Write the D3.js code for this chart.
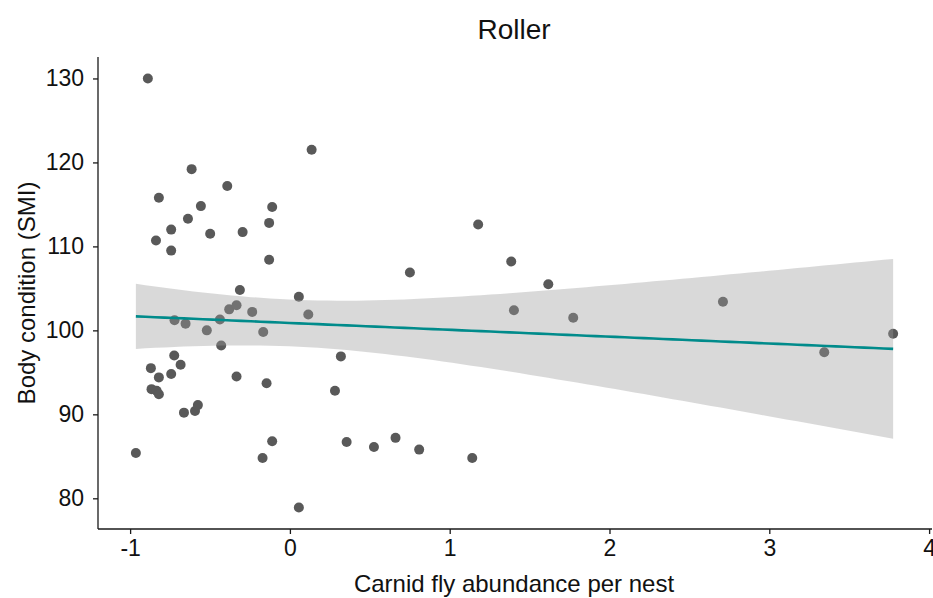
<!DOCTYPE html>
<html>
<head>
<meta charset="utf-8">
<script src="https://cdn.jsdelivr.net/npm/d3@7"></script>
<style>
    body { margin: 0; background: #fff; }
    svg text { font-family: "Liberation Sans", Arial, sans-serif; }
</style>
</head>
<body>
<div id="chart"></div>
<script>
// data //
// ------------------------ //
var title = "Roller",
    xLabel = "Carnid fly abundance per nest",
    yLabel = "Body condition (SMI)",
    xTicks = [-1, 0, 1, 2, 3, 4],
    yTicks = [80, 90, 100, 110, 120, 130];

// carnid fly abundance per nest (x)
var fly = [-0.889, 0.136, -0.615, -0.392, -0.82, -0.557, -0.111, -0.638, -0.13, -0.743,
           -0.499, -0.296, -0.838, -0.743, -0.13, -0.313, 0.056, 0.115, -0.38, -0.334,
           -0.236, -0.722, -0.653, -0.438, -0.52, -0.167, -0.43, -0.724, -0.684, -0.87,
           -0.82, -0.743, -0.334, -0.146, 0.319, 0.282, -0.866, -0.834, -0.82, -0.663,
           -0.594, -0.576, -0.964, -0.111, -0.171, 0.355, 0.056, 1.178, 1.385, 1.617,
           0.751, 1.402, 0.526, 0.661, 0.809, 1.141, 1.773, 2.71, 3.344, 3.775];

// body condition (y)
var smi = [130.0, 121.5, 119.2, 117.2, 115.8, 114.8, 114.7, 113.3, 112.8, 112.0,
           111.5, 111.7, 110.7, 109.5, 108.4, 104.8, 104.0, 101.9, 102.5, 103.0,
           102.2, 101.2, 100.8, 101.3, 100.0, 99.8, 98.2, 97.0, 95.9, 95.5,
           94.4, 94.8, 94.5, 93.7, 96.9, 92.8, 93.0, 92.8, 92.4, 90.2,
           90.4, 91.1, 85.4, 86.8, 84.8, 86.7, 78.9, 112.6, 108.2, 105.5,
           106.9, 102.4, 86.1, 87.2, 85.8, 84.8, 101.5, 103.4, 97.4, 99.6];

(function () {
    'use strict';
    var width = 933,
        height = 598,
        left = 98,
        right = 931,
        top = 57,
        bottom = 529,
        points = fly.map(function (d, i) { return {x: d, y: smi[i]}; });

    // ggplot style 5% padding on the data range
    var pad = function (ext) {
        var r = ext[1] - ext[0];
        return [ext[0] - 0.05 * r, ext[1] + 0.05 * r];
    };

    var x = d3.scaleLinear().domain(pad(d3.extent(fly))).range([left, right]),
        y = d3.scaleLinear().domain(pad(d3.extent(smi))).range([bottom, top]);

    // lm fit + 95% confidence band (geom_smooth(method = "lm")) //
    // -------------------------------------------------------- //
    var n = fly.length,
        mx = d3.mean(fly),
        my = d3.mean(smi),
        sxx = d3.sum(fly, function (d) { return (d - mx) * (d - mx); }),
        sxy = d3.sum(fly, function (d, i) { return (d - mx) * (smi[i] - my); }),
        slope = sxy / sxx,
        icpt = my - slope * mx,
        rss = d3.sum(fly, function (d, i) {
            var e = smi[i] - (icpt + slope * d);
            return e * e;
        }),
        s = Math.sqrt(rss / (n - 2)),
        tq = 2.0017; // qt(0.975, 58)

    var xr = d3.extent(fly),
        smooth = d3.range(80).map(function (i) {
            var xv = xr[0] + (xr[1] - xr[0]) * i / 79,
                fit = icpt + slope * xv,
                se = s * Math.sqrt(1 / n + (xv - mx) * (xv - mx) / sxx);
            return {x: xv, fit: fit, lo: fit - tq * se, hi: fit + tq * se};
        });

    var svg = d3.select("#chart").append("svg")
        .attr("width", width)
        .attr("height", height);

    // points first, band goes over them like in ggplot
    svg.append("g").selectAll("circle")
        .data(points)
        .enter()
        .append("circle")
        .attr("cx", function (d) { return x(d.x); })
        .attr("cy", function (d) { return y(d.y); })
        .attr("r", 5)
        .attr("fill", "#595959");

    svg.append("path")
        .datum(smooth)
        .attr("d", d3.area()
            .x(function (d) { return x(d.x); })
            .y0(function (d) { return y(d.lo); })
            .y1(function (d) { return y(d.hi); }))
        .attr("fill", "#9c9c9c")
        .attr("fill-opacity", 0.38);

    svg.append("path")
        .datum(smooth)
        .attr("d", d3.line()
            .x(function (d) { return x(d.x); })
            .y(function (d) { return y(d.fit); }))
        .attr("fill", "none")
        .attr("stroke", "#008b8b")
        .attr("stroke-width", 2.6);

    // Axes //
    // ---- //
    var plain = function (d) { return String(d); }; // hyphen minus, no decimals

    var xAxis = svg.append("g")
        .attr("transform", "translate(0," + bottom + ")")
        .call(d3.axisBottom(x).tickValues(xTicks).tickFormat(plain)
            .tickSize(5).tickPadding(6).tickSizeOuter(0));

    var yAxis = svg.append("g")
        .attr("transform", "translate(" + left + ",0)")
        .call(d3.axisLeft(y).tickValues(yTicks).tickFormat(plain)
            .tickSize(5).tickPadding(9).tickSizeOuter(0));

    [xAxis, yAxis].forEach(function (g) {
        g.select(".domain").attr("stroke", "#1a1a1a").attr("stroke-width", 1.3);
        g.selectAll(".tick line").attr("stroke", "#1a1a1a").attr("stroke-width", 1.3);
        g.selectAll(".tick text")
            .attr("fill", "#111")
            .style("font-size", "23px")
            .style("font-family", "'Liberation Sans', Arial, sans-serif");
    });
    // stretch x axis line to the edge of the panel
    xAxis.select(".domain").attr("d", "M" + left + ",0H" + (right + 1));
    yAxis.select(".domain").attr("d", "M0," + top + "V" + bottom);

    svg.append("text")
        .attr("x", 514)
        .attr("y", 39)
        .attr("text-anchor", "middle")
        .style("font-size", "28px")
        .attr("fill", "#111")
        .text(title);

    svg.append("text")
        .attr("x", 514)
        .attr("y", 592)
        .attr("text-anchor", "middle")
        .style("font-size", "24px")
        .attr("fill", "#111")
        .text(xLabel);

    svg.append("text")
        .attr("transform", "translate(35," + ((top + bottom) / 2) + ") rotate(-90)")
        .attr("text-anchor", "middle")
        .style("font-size", "24px")
        .attr("fill", "#111")
        .text(yLabel);
}());
</script>
</body>
</html>
